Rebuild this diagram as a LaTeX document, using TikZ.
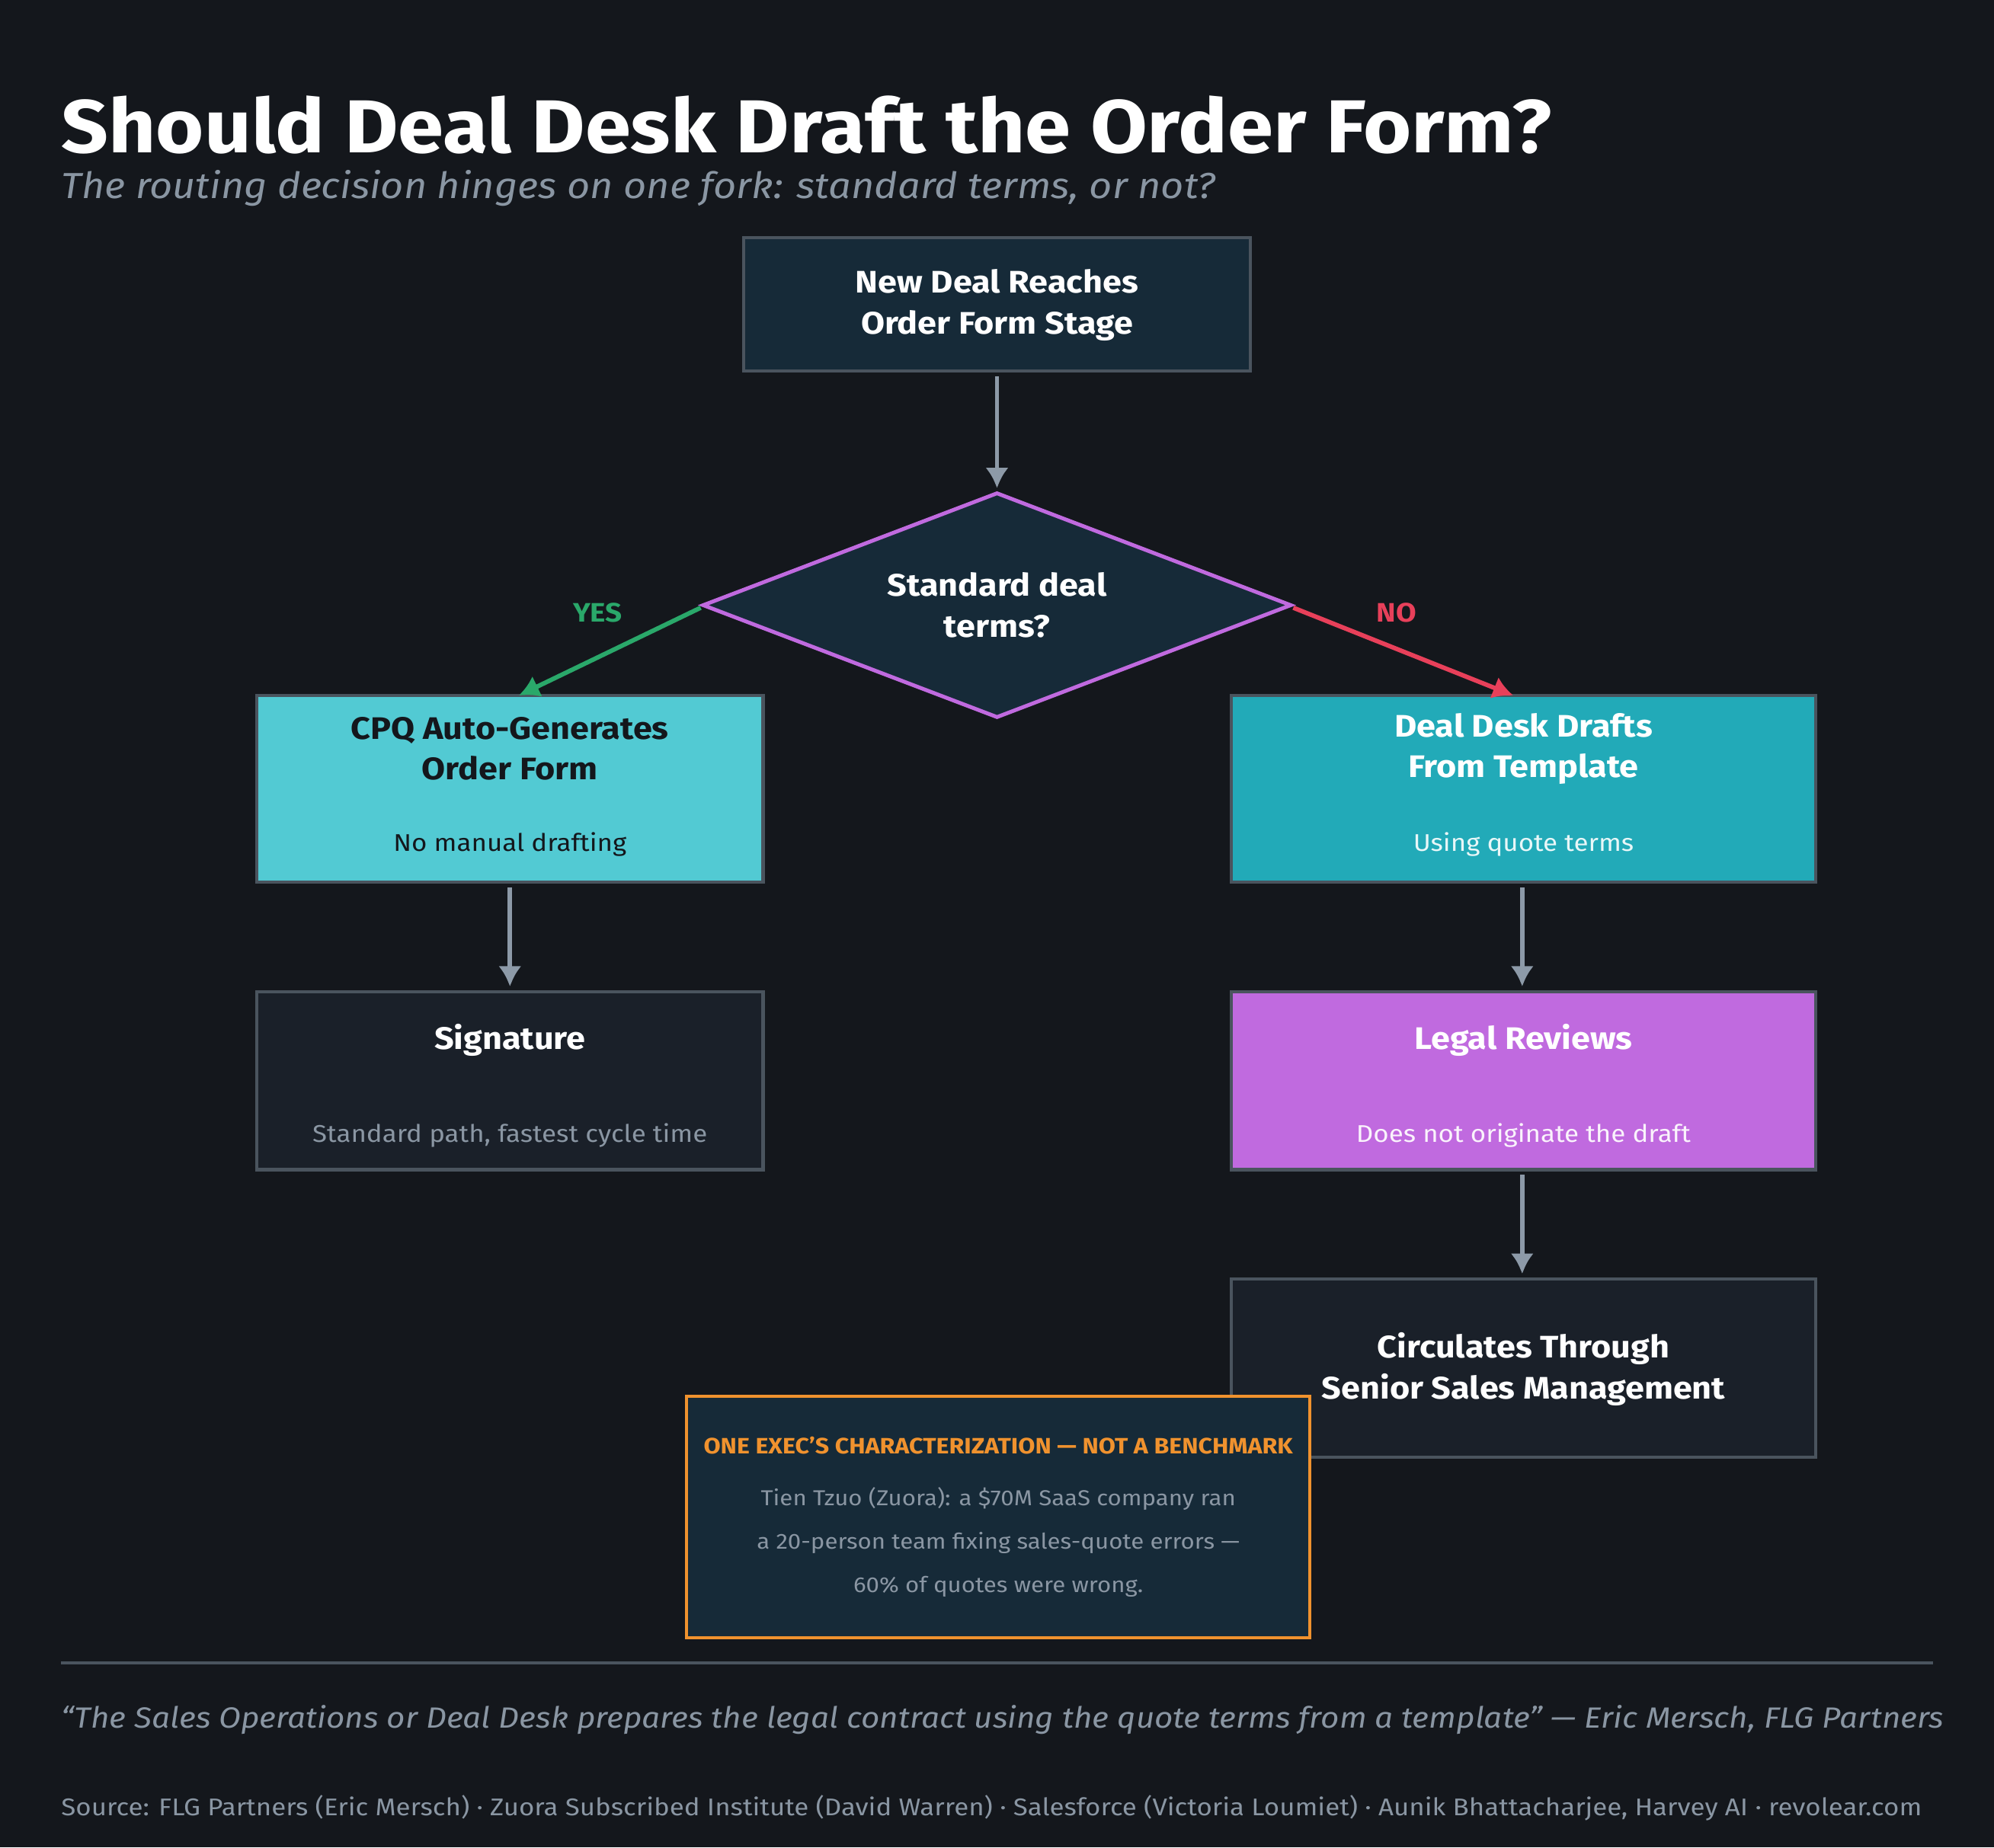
\documentclass[tikz,border=0pt]{standalone}
\usepackage{fontspec}
\setmainfont{Fira Sans}[FakeStretch=1.1]
\usetikzlibrary{arrows.meta,shapes.geometric}
\definecolor{bg}{HTML}{14171C}
\definecolor{navy}{HTML}{162A38}
\definecolor{edge}{HTML}{4A545E}
\definecolor{arr}{HTML}{8D9AA8}
\definecolor{muted}{HTML}{8A96A3}
\definecolor{purp}{HTML}{C06ADF}
\definecolor{cyanl}{HTML}{52CAD3}
\definecolor{cyand}{HTML}{22AAB8}
\definecolor{darkbox}{HTML}{1A2029}
\definecolor{yesg}{HTML}{2AA86A}
\definecolor{nor}{HTML}{E8405A}
\definecolor{orng}{HTML}{F0922E}
\begin{document}
\begin{tikzpicture}[x=1pt,y=-1pt,
  box/.style={draw=edge,line width=2.5pt},
  ttl/.style={font=\fontsize{24.5}{32}\selectfont\bfseries,align=center},
  sub/.style={font=\fontsize{19}{24}\selectfont},
  flow/.style={draw=arr,line width=3.5pt,-{Latex[length=16pt,width=18pt]}},
  lab/.style={font=\fontsize{21}{24}\selectfont\bfseries}]
\fill[bg] (0,0) rectangle (1568,1453);
\useasboundingbox (0,0) rectangle (1568,1453);
\node[anchor=base west,white,font=\fontsize{59}{60}\selectfont\bfseries,inner sep=0] (title) at (48,120) {Should Deal Desk Draft the Order Form?};
\node[anchor=base west,muted,font=\fontsize{28.5}{30}\selectfont\itshape,inner sep=0] (subt) at (48,156) {The routing decision hinges on one fork: standard terms, or not?};
% boxes
\draw[box,fill=navy] (585,187) rectangle (983,292);
\node[ttl,white] (b1) at (784,240) {New Deal Reaches\\Order Form Stage};
\coordinate (b1s) at (784,296);
\draw[purp,line width=3pt,fill=navy] (784,388) -- (1015,476) -- (784,564) -- (553,476) -- cycle;
\node[ttl,white] (dia) at (784,476) {Standard deal\\terms?};
\coordinate (dt) at (784,384);
\coordinate (dl) at (551,478);
\coordinate (dr) at (1017,478);
\draw[box,fill=cyanl] (202,547) rectangle (600,694);
\node[ttl,text=bg] (cpq) at (401,589) {CPQ Auto-Generates\\Order Form};
\node[sub,text=bg] (cpqs) at (401,664) {No manual drafting};
\coordinate (cpqt) at (408,547);
\coordinate (cpqb) at (401,698);
\draw[box,fill=cyand] (968,547) rectangle (1428,694);
\node[ttl,white] (dd) at (1198,589) {Deal Desk Drafts\\From Template};
\node[sub,text=white!90!cyand] (dds) at (1198,664) {Using quote terms};
\coordinate (ddt) at (1190,547);
\coordinate (ddb) at (1197,698);
\draw[box,fill=darkbox] (202,780) rectangle (600,920);
\node[ttl,white] (sig) at (401,818) {Signature};
\node[sub,muted] (sigs) at (401,893) {Standard path, fastest cycle time};
\coordinate (sigt) at (401,776);
\draw[box,fill=purp] (968,780) rectangle (1428,920);
\node[ttl,white] (leg) at (1198,818) {Legal Reviews};
\node[sub,white!92!purp] (legs) at (1198,893) {Does not originate the draft};
\coordinate (legt) at (1197,776);
\coordinate (legb) at (1197,924);
\draw[box,fill=darkbox] (968,1006) rectangle (1428,1146);
\node[ttl,white] (circ) at (1198,1077) {Circulates Through\\Senior Sales Management};
\coordinate (circt) at (1197,1002);
% arrows
\draw[flow] (b1s) -- (dt);
\draw[flow] (cpqb) -- (sigt);
\draw[flow] (ddb) -- (legt);
\draw[flow] (legb) -- (circt);
\draw[yesg,line width=3.5pt,-{Latex[length=16pt,width=18pt]}] (dl) -- (cpqt);
\draw[nor,line width=3.5pt,-{Latex[length=16pt,width=18pt]}] (dr) -- (ddt);
\node[lab,yesg] (yes) at (470,482) {YES};
\node[lab,nor] (no) at (1098,482) {NO};
% callout
\draw[orng,line width=2.5pt,fill=navy] (540,1098) rectangle (1030,1288);
\node[orng,font=\fontsize{17.5}{18}\selectfont\bfseries] (ch) at (785,1137) {ONE EXEC'S CHARACTERIZATION — NOT A BENCHMARK};
\node[muted,font=\fontsize{17}{34}\selectfont,align=center] (cb) at (785,1213) {Tien Tzuo (Zuora): a \$70M SaaS company ran\\a 20-person team fixing sales-quote errors —\\60\% of quotes were wrong.};
% footer
\coordinate (r1) at (48,1308);
\coordinate (r2) at (1520,1308);
\draw[edge,line width=2pt] (r1) -- (r2);
\node[anchor=base west,muted,inner sep=0,font=\fontsize{23}{26}\selectfont\itshape] (quote) at (48,1359) {“The Sales Operations or Deal Desk prepares the legal contract using the quote terms from a template” — Eric Mersch, FLG Partners};
\node[anchor=base west,muted,inner sep=0,font=\fontsize{19}{22}\selectfont] (src) at (48,1428) {Source: FLG Partners (Eric Mersch) · Zuora Subscribed Institute (David Warren) · Salesforce (Victoria Loumiet) · Aunik Bhattacharjee, Harvey AI · revolear.com};
\end{tikzpicture}
\end{document}
